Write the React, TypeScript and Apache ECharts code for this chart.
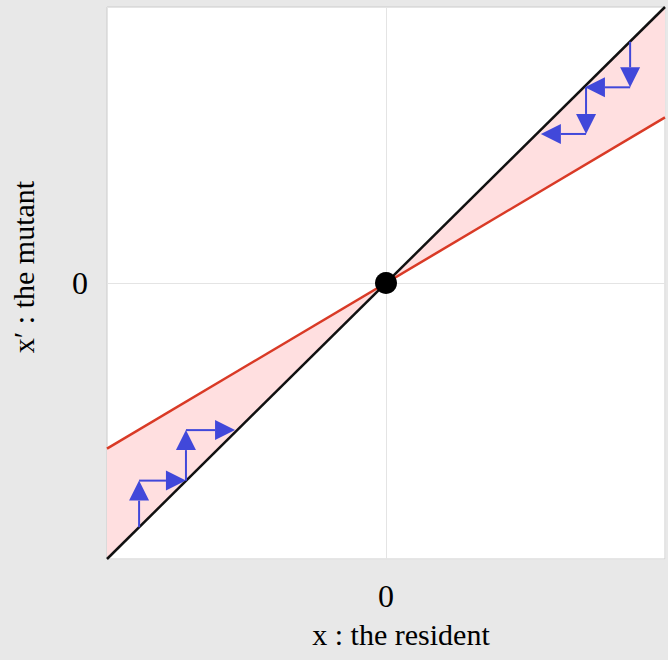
import React, { useEffect, useRef } from "react";
import * as echarts from "echarts";

// Lines of the diagram (x, y in data units)
const diagonalLine: number[][] = [
  [-1, -1],
  [1, 1],
];
const redLine: number[][] = [
  [-1, -0.6],
  [1, 0.6],
];
// Shaded wedges between the diagonal and the red line
const fillPolygons: number[][][] = [
  [
    [-1, -1],
    [0, 0],
    [-1, -0.6],
  ],
  [
    [1, 1],
    [0, 0],
    [1, 0.6],
  ],
];
// Staircase arrows: [x1, y1, x2, y2]
const arrowsLower: number[][] = [
  [-0.885, -0.885, -0.885, -0.716],
  [-0.885, -0.716, -0.717, -0.716],
  [-0.717, -0.716, -0.717, -0.533],
  [-0.717, -0.533, -0.541, -0.533],
];
const arrowsUpper: number[][] = [
  [0.875, 0.874, 0.875, 0.709],
  [0.875, 0.709, 0.713, 0.709],
  [0.717, 0.709, 0.717, 0.54],
  [0.717, 0.54, 0.555, 0.54],
];
const equilibrium: number[][] = [[0, 0]];
const xTickLabels: Record<string, string> = { "0": "0" };
const yTickLabels: Record<string, string> = { "0": "0" };
const xName = "x : the resident";
const yName = "x\u2032 : the mutant";

const SERIF = "'Liberation Serif', 'Times New Roman', serif";
const ARROW_COLOR = "#4148da";

export default function App() {
  const ref = useRef<HTMLDivElement>(null);

  useEffect(() => {
    if (!ref.current) return;
    const chart = echarts.init(ref.current, undefined, { renderer: "svg" });

    const arrowRender = (params: any, api: any) => {
      const p1 = api.coord([api.value(0), api.value(1)]);
      const p2 = api.coord([api.value(2), api.value(3)]);
      const dx = p2[0] - p1[0];
      const dy = p2[1] - p1[1];
      const len = Math.sqrt(dx * dx + dy * dy) || 1;
      const ux = dx / len;
      const uy = dy / len;
      const L = 20;
      const W = 10;
      const bx = p2[0] - ux * L;
      const by = p2[1] - uy * L;
      const nx = -uy;
      const ny = ux;
      return {
        type: "group",
        children: [
          {
            type: "line",
            shape: { x1: p1[0], y1: p1[1], x2: bx, y2: by },
            style: { stroke: ARROW_COLOR, lineWidth: 2 },
          },
          {
            type: "polygon",
            shape: {
              points: [
                [p2[0], p2[1]],
                [bx + nx * W, by + ny * W],
                [bx - nx * W, by - ny * W],
              ],
            },
            style: { fill: ARROW_COLOR },
          },
        ],
      };
    };

    chart.setOption({
      animation: false,
      backgroundColor: "#e8e8e8",
      grid: {
        left: 107,
        top: 7,
        width: 558,
        height: 552,
        show: true,
        backgroundColor: "#ffffff",
        borderColor: "#cdcdcd",
        borderWidth: 1,
      },
      xAxis: {
        type: "value",
        min: -1,
        max: 1,
        interval: 1,
        name: xName,
        nameLocation: "middle",
        nameGap: 60,
        nameTextStyle: {
          fontFamily: SERIF,
          fontSize: 30,
          color: "#000",
          padding: [0, 0, 0, 30],
        },
        axisLine: { show: false },
        axisTick: { show: false },
        axisLabel: {
          margin: 21,
          fontFamily: SERIF,
          fontSize: 32,
          color: "#000",
          formatter: (v: number) => xTickLabels[String(v)] ?? "",
        },
        splitLine: { show: true, lineStyle: { color: "#e4e4e4", width: 1 } },
      },
      yAxis: {
        type: "value",
        min: -1,
        max: 1,
        interval: 1,
        name: yName,
        nameLocation: "middle",
        nameGap: 69,
        nameTextStyle: {
          fontFamily: SERIF,
          fontSize: 30,
          color: "#000",
          padding: [0, 0, 0, 32],
        },
        axisLine: { show: false },
        axisTick: { show: false },
        axisLabel: {
          margin: 19,
          fontFamily: SERIF,
          fontSize: 32,
          color: "#000",
          formatter: (v: number) => yTickLabels[String(v)] ?? "",
        },
        splitLine: { show: true, lineStyle: { color: "#e4e4e4", width: 1 } },
      },
      series: [
        {
          type: "custom",
          name: "fill",
          silent: true,
          clip: true,
          data: fillPolygons.map((p) => [p[0][0], p[0][1]]),
          renderItem: (params: any, api: any) => ({
            type: "polygon",
            shape: {
              points: fillPolygons[params.dataIndex].map((pt) => api.coord(pt)),
            },
            style: { fill: "#ffdfe0" },
          }),
          z: 1,
        },
        {
          type: "line",
          name: "red",
          data: redLine,
          symbol: "none",
          lineStyle: { color: "#d93a26", width: 2.5 },
          z: 2,
        },
        {
          type: "line",
          name: "diagonal",
          data: diagonalLine,
          symbol: "none",
          lineStyle: { color: "#111111", width: 2.5 },
          z: 3,
        },
        {
          type: "custom",
          name: "arrowsLower",
          data: arrowsLower,
          encode: { x: [0, 2], y: [1, 3] },
          renderItem: arrowRender,
          z: 4,
        },
        {
          type: "custom",
          name: "arrowsUpper",
          data: arrowsUpper,
          encode: { x: [0, 2], y: [1, 3] },
          renderItem: arrowRender,
          z: 4,
        },
        {
          type: "scatter",
          name: "equilibrium",
          data: equilibrium,
          symbol: "circle",
          symbolSize: 22,
          itemStyle: { color: "#000", opacity: 1 },
          z: 5,
        },
      ],
    });

    return () => chart.dispose();
  }, []);

  return (
    <div
      ref={ref}
      style={{ position: "absolute", left: 0, top: 0, width: 668, height: 660 }}
    />
  );
}
